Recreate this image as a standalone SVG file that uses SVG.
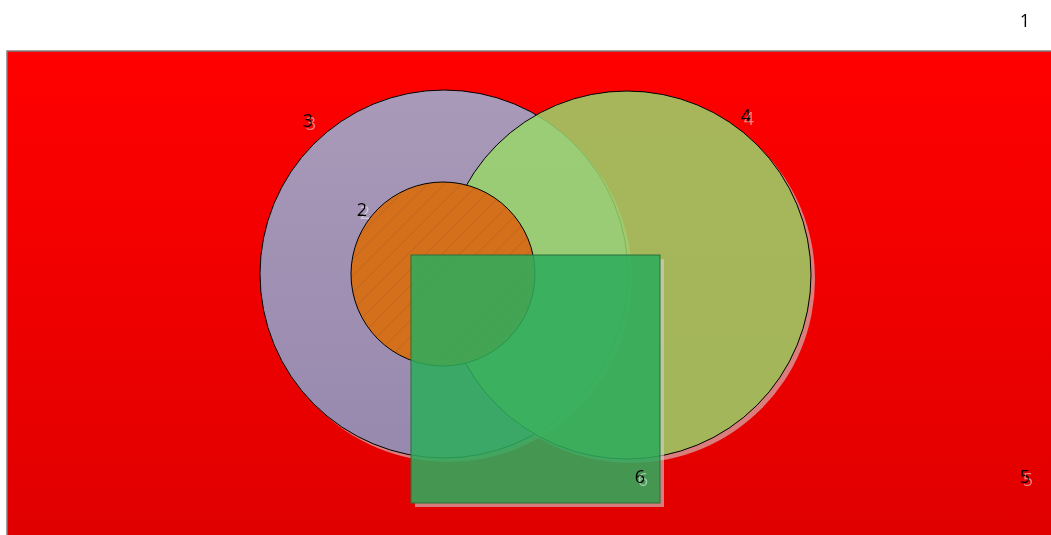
<svg xmlns="http://www.w3.org/2000/svg" width="1051" height="535" viewBox="0 0 1051 535">
<style>
.lbl{font-family:"Open Sans","Liberation Sans",sans-serif;font-size:18px;text-anchor:middle;dominant-baseline:central;fill:#000;filter:url(#tshadow)}
.shadow{fill:#d0d0d0;fill-opacity:0.6}
</style>
<defs>
<filter id="tshadow" x="-50%" y="-50%" width="200%" height="200%">
<feDropShadow dx="3" dy="3" stdDeviation="0.4" flood-color="#ffffff" flood-opacity="0.5"/>
</filter>
<linearGradient id="gRed" x1="0" y1="0" x2="0" y2="1">
<stop offset="0" stop-color="#ff0000"/>
<stop offset="1" stop-color="#e00000"/>
</linearGradient>
<linearGradient id="gPurple" x1="0" y1="0" x2="0" y2="1">
<stop offset="0" stop-color="#a99ab9"/>
<stop offset="1" stop-color="#9788ae"/>
</linearGradient>
<pattern id="hatch" width="12" height="12" patternUnits="userSpaceOnUse" patternTransform="rotate(-45)">
<rect width="12" height="12" fill="#d4701c"/>
<line x1="0" y1="0" x2="12" y2="0" stroke="#b05e20" stroke-width="1.5" stroke-opacity="0.7"/>
</pattern>
<mask id="m3" maskUnits="userSpaceOnUse" x="0" y="0" width="1051" height="535">
<rect width="1051" height="535" fill="#fff"/>
<circle cx="444" cy="274" r="184" fill="#000"/>
</mask>
<mask id="m4" maskUnits="userSpaceOnUse" x="0" y="0" width="1051" height="535">
<rect width="1051" height="535" fill="#fff"/>
<circle cx="627" cy="275" r="184" fill="#000"/>
</mask>
<mask id="m6" maskUnits="userSpaceOnUse" x="0" y="0" width="1051" height="535">
<rect width="1051" height="535" fill="#fff"/>
<rect x="411" y="255" width="249" height="248" fill="#000"/>
</mask>
</defs>
<rect width="1051" height="535" fill="#ffffff"/>
<g id="node1">
<text class="lbl" x="1025" y="20">1</text>
</g>
<g id="node5">
<rect x="7" y="51" width="1050" height="490" fill="url(#gRed)" stroke="#808080" stroke-width="1.5"/>
<text class="lbl" x="1025" y="476">5</text>
</g>
<g id="node3">
<circle cx="448" cy="278" r="184" class="shadow" mask="url(#m3)"/>
<circle cx="444" cy="274" r="184" fill="url(#gPurple)" stroke="#000" stroke-width="1"/>
<text class="lbl" x="308" y="120">3</text>
</g>
<g id="node4">
<circle cx="631" cy="279" r="184" class="shadow" mask="url(#m4)"/>
<circle cx="627" cy="275" r="184" fill="#98d66a" fill-opacity="0.85" stroke="#000" stroke-width="1"/>
<text class="lbl" x="746" y="115">4</text>
</g>
<g id="node2">
<circle cx="443" cy="274" r="92" fill="url(#hatch)" stroke="#000" stroke-width="1"/>
<text class="lbl" x="362" y="209">2</text>
</g>
<g id="node6">
<rect x="415" y="259" width="249" height="248" class="shadow" mask="url(#m6)"/>
<rect x="411" y="255" width="249" height="248" fill="#2dac5c" fill-opacity="0.87" stroke="#2a6e3a" stroke-width="1"/>
<text class="lbl" x="640" y="476">6</text>
</g>
<g id="connectors"></g>
</svg>
